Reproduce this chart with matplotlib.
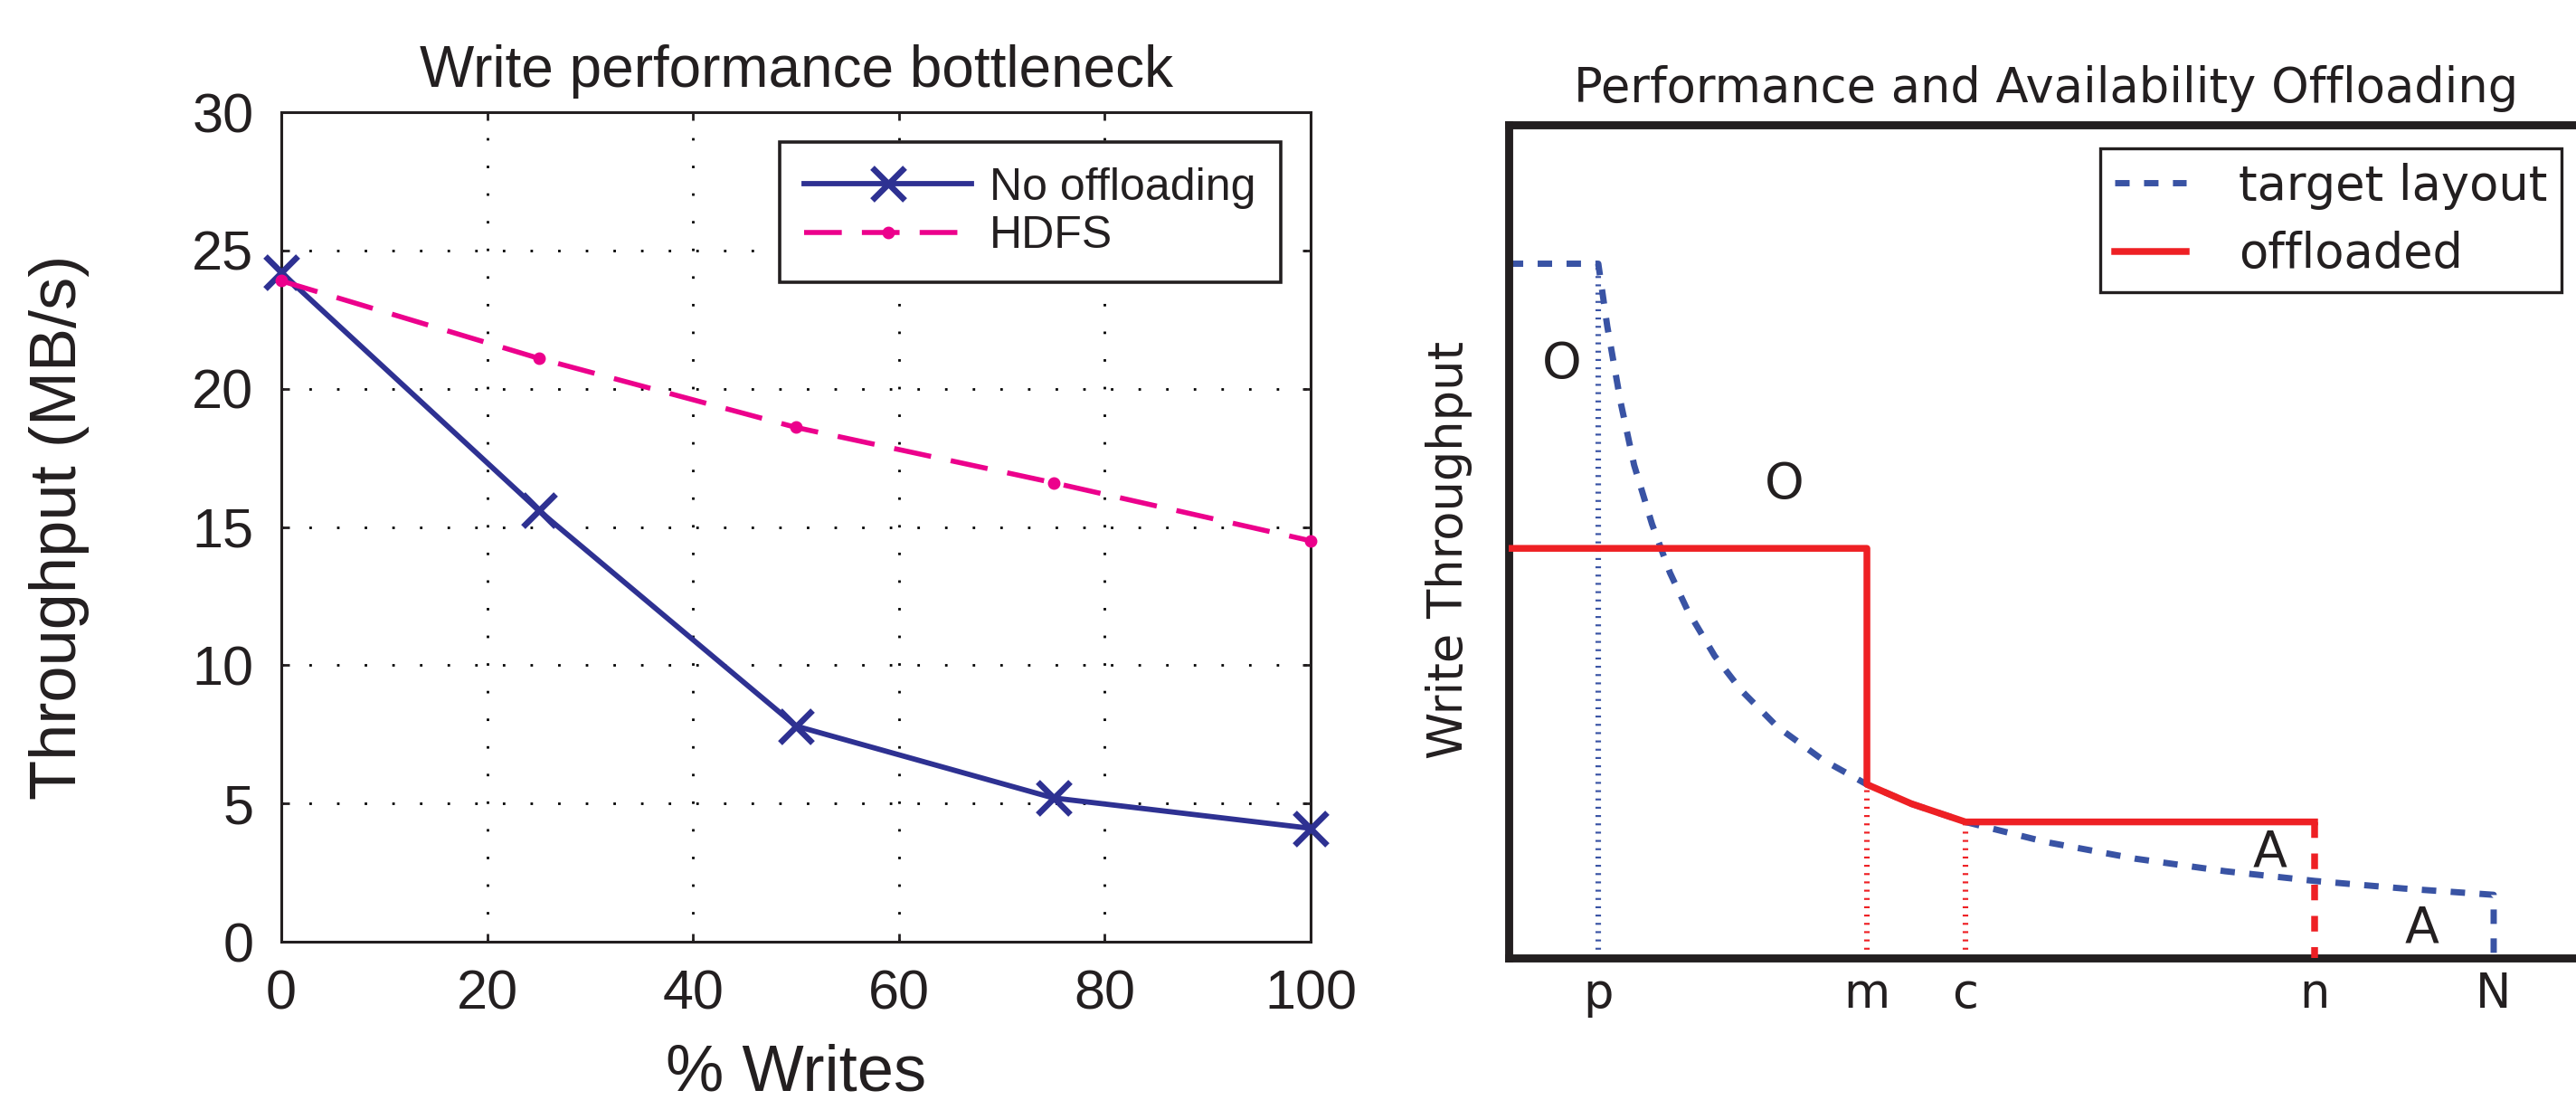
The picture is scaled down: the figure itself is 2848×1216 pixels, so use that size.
import matplotlib
matplotlib.use("Agg")
import matplotlib.pyplot as plt

# ---------------- data: left panel ----------------
writes_pct = [0, 25, 50, 75, 100]
no_offloading = [24.2, 15.6, 7.8, 5.2, 4.1]
hdfs = [23.9, 21.1, 18.6, 16.6, 14.5]
left_xticks = [0, 20, 40, 60, 80, 100]
left_yticks = [0, 5, 10, 15, 20, 25, 30]

# ---------------- data: right panel ----------------
target_x = [0, 1, 1.1, 1.25, 1.4, 1.6, 1.8, 2.0, 2.3, 2.6, 3.0, 3.5, 4.0, 4.5,
            5.1, 6, 7, 8, 9, 10, 11, 11]
target_y = [1.0, 1.0, 0.91, 0.80, 0.71, 0.625, 0.555, 0.50, 0.435, 0.385, 0.333,
            0.286, 0.25, 0.222, 0.196, 0.167, 0.143, 0.125, 0.111, 0.10, 0.091, 0.0]
offload_x = [0, 4, 4, 4.5, 5.1, 9]
offload_y = [0.59, 0.59, 0.25, 0.222, 0.196, 0.196]
n_drop_x = [9, 9]
n_drop_y = [0.196, 0.0]
p_guide_x = [1, 1]
p_guide_y = [0.0, 1.0]
m_guide_x = [4, 4]
m_guide_y = [0.0, 0.25]
c_guide_x = [5.1, 5.1]
c_guide_y = [0.0, 0.196]
right_tick_pos = [1, 4, 5.1, 9, 11]
right_tick_labels = ["p", "m", "c", "n", "N"]
region_labels = ["O", "O", "A", "A"]
region_x = [0.59, 3.08, 8.5, 10.2]
region_y = [0.855, 0.681, 0.152, 0.043]

TXT = "#231f20"
fig = plt.figure(figsize=(14.24, 6.08), dpi=200)

# ================= left panel (MATLAB look) =================
LF = ["Liberation Sans", "DejaVu Sans"]
axL = fig.add_axes([0.1092, 0.1439, 0.3996, 0.7541])
navy = "#2e3192"
mag = "#ec008c"
axL.plot(writes_pct, no_offloading, color=navy, lw=2.1, marker="x",
         ms=13, mew=2.4, label="No offloading", clip_on=False, zorder=3)
axL.plot(writes_pct, hdfs, color=mag, lw=2.0, ls=(0, (7.5, 4)), marker=".",
         ms=8, label="HDFS", clip_on=False, zorder=3)
axL.set_xlim(0, 100)
axL.set_ylim(0, 30)
axL.set_xticks(left_xticks)
axL.set_yticks(left_yticks)
axL.grid(True, color="black", ls=(0, (1, 10)), lw=1.0)
axL.tick_params(direction="in", length=3.3, width=1.0, top=True, right=True,
                labelsize=22, colors=TXT, pad=11)
for lab in axL.get_xticklabels() + axL.get_yticklabels():
    lab.set_family(LF)
for s in axL.spines.values():
    s.set_linewidth(1.1)
    s.set_color(TXT)
axL.set_title("Write performance bottleneck", fontsize=23, family=LF,
              color=TXT, pad=10)
axL.set_xlabel("% Writes", fontsize=26, family=LF, color=TXT, labelpad=9)
axL.set_ylabel("Throughput (MB/s)", fontsize=26, family=LF, color=TXT)
axL.yaxis.set_label_coords(-0.186, 0.5)
legL = axL.legend(loc="upper right", bbox_to_anchor=(0.971, 0.964),
                  borderaxespad=0, fancybox=False, framealpha=1,
                  edgecolor=TXT, handlelength=3.7, handletextpad=0.4,
                  labelspacing=0.15, borderpad=0.55,
                  prop={"family": LF, "size": 18})
legL.get_frame().set_linewidth(1.3)
for t in legL.get_texts():
    t.set_color(TXT)

# ================= right panel =================
RF = ["DejaVu Sans"]
axR = fig.add_axes([0.5857, 0.1291, 0.4171, 0.7574])
blue = "#3953a4"
red = "#ee2024"
dash = (0, (2.3, 2.3))
dots = (0, (0.35, 1.15))
axR.plot(target_x, target_y, color=blue, lw=2.5, ls=dash, label="target layout",
         zorder=2)
axR.plot(offload_x, offload_y, color=red, lw=2.7, label="offloaded", zorder=3)
axR.plot(n_drop_x, n_drop_y, color=red, lw=2.7, ls=dash, zorder=3)
axR.plot(p_guide_x, p_guide_y, color=blue, lw=2.2, ls=dots, zorder=1)
axR.plot(m_guide_x, m_guide_y, color=red, lw=2.2, ls=dots, zorder=1)
axR.plot(c_guide_x, c_guide_y, color=red, lw=2.2, ls=dots, zorder=1)
for t, x, y in zip(region_labels, region_x, region_y):
    axR.text(x, y, t, fontsize=20, family=RF, color=TXT, ha="center", va="center")
axR.set_xlim(0, 12)
axR.set_ylim(0, 1.2)
axR.set_yticks([])
axR.set_xticks(right_tick_pos)
axR.set_xticklabels(right_tick_labels, family=RF)
axR.tick_params(axis="x", length=0, pad=5, labelsize=19, colors=TXT)
for s in axR.spines.values():
    s.set_linewidth(3.2)
    s.set_color(TXT)
axR.set_title("Performance and Availability Offloading", fontsize=19,
              family=RF, color=TXT, pad=9)
axR.set_ylabel("Write Throughput", fontsize=19, family=RF, color=TXT)
axR.yaxis.set_label_coords(-0.034, 0.49)
legR = axR.legend(loc="upper right", bbox_to_anchor=(0.98, 0.972),
                  borderaxespad=0, fancybox=False, framealpha=1,
                  edgecolor=TXT, handlelength=1.5, handletextpad=1.1,
                  borderpad=0.3, labelspacing=0.45,
                  prop={"family": RF, "size": 19})
legR.get_frame().set_linewidth(1.2)
for t in legR.get_texts():
    t.set_color(TXT)

fig.savefig("out.png", dpi=200)
